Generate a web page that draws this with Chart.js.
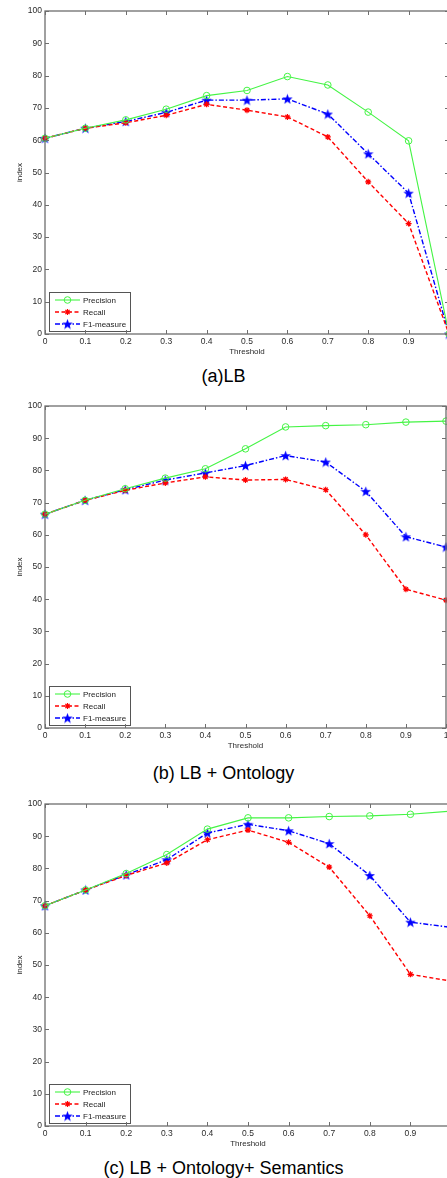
<!DOCTYPE html>
<html>
<head>
<meta charset="utf-8">
<script src="https://cdn.jsdelivr.net/npm/chart.js@4.4.1/dist/chart.umd.min.js"></script>
<style>
  html, body { margin: 0; padding: 0; background: #fff; overflow: hidden; }
  body { width: 447px; height: 1178px; position: relative; }
  canvas { position: absolute; left: 0; }
  .caption { position: absolute; left: 0; width: 447px; text-align: center;
             font: 18px "Liberation Sans", Arial, sans-serif; line-height: 20px; color: #000; }
</style>
</head>
<body>
<canvas id="chartA" width="449" height="364" style="top:0px"></canvas>
<div class="caption" style="top:366px">(a)LB</div>
<canvas id="chartB" width="448" height="368" style="top:390px"></canvas>
<div class="caption" style="top:763px">(b) LB + Ontology</div>
<canvas id="chartC" width="451" height="376" style="top:780px"></canvas>
<div class="caption" style="top:1158px">(c) LB + Ontology+ Semantics</div>

<script>
// thresholds on the x axis
const thresholds = [0, 0.1, 0.2, 0.3, 0.4, 0.5, 0.6, 0.7, 0.8, 0.9, 1];
const xTickLabels = ['0', '0.1', '0.2', '0.3', '0.4', '0.5', '0.6', '0.7', '0.8', '0.9', '1'];
const yTickLabels = ['0', '10', '20', '30', '40', '50', '60', '70', '80', '90', '100'];
const seriesNames = ['Precision', 'Recall', 'F1-measure'];

// (a) LB
const lbPrecision = [60.6, 63.7, 66.3, 69.6, 73.8, 75.4, 79.7, 77.1, 68.7, 59.8, 0];
const lbRecall    = [60.6, 63.7, 65.4, 67.7, 71.1, 69.3, 67.2, 61.0, 47.1, 34.2, 0];
const lbF1        = [60.6, 63.7, 65.8, 68.6, 72.4, 72.4, 72.8, 68.1, 55.8, 43.6, 0];

// (b) LB + Ontology
const ontPrecision = [66.4, 70.7, 74.3, 77.6, 80.5, 86.7, 93.5, 93.9, 94.2, 95.0, 95.3];
const ontRecall    = [66.4, 70.7, 73.8, 76.1, 78.0, 77.0, 77.2, 74.0, 60.0, 43.1, 39.7];
const ontF1        = [66.4, 70.7, 74.0, 77.0, 79.2, 81.5, 84.6, 82.6, 73.5, 59.4, 56.2];

// (c) LB + Ontology + Semantics
const semPrecision = [68.4, 73.3, 78.4, 84.3, 92.2, 95.7, 95.7, 96.1, 96.3, 96.8, 97.8];
const semRecall    = [68.4, 73.3, 77.8, 81.7, 88.9, 91.9, 88.1, 80.4, 65.3, 47.1, 45.0];
const semF1        = [68.4, 73.3, 78.0, 82.7, 91.0, 93.7, 91.7, 87.7, 77.8, 63.3, 61.7];

const GREEN = '#44f444';
const RED = '#ff0000';
const BLUE = '#0000ff';
const FONT = '"Liberation Sans", Arial, sans-serif';

// filled pentagram for the F1 markers (matlab 'p')
function makeStar(size, color) {
    const c = document.createElement('canvas');
    c.width = size; c.height = size;
    const g = c.getContext('2d');
    const cx = size / 2, cy = size / 2 + 0.5, ro = size / 2, ri = ro * 0.42;
    g.beginPath();
    for (let i = 0; i < 10; i++) {
        const r = i % 2 ? ri : ro;
        const a = -Math.PI / 2 + i * Math.PI / 5;
        g.lineTo(cx + r * Math.cos(a), cy + r * Math.sin(a));
    }
    g.closePath();
    g.fillStyle = color;
    g.fill();
    return c;
}
const starImg = makeStar(11, BLUE);

function points(vals) {
    return thresholds.map((t, i) => ({ x: t, y: vals[i] }));
}

// inward tick marks + box frame, matlab style
const matlabFrame = {
    id: 'matlabFrame',
    afterDraw(chart) {
        const { ctx, chartArea: { top, right, bottom, left }, scales: { x, y } } = chart;
        ctx.save();
        ctx.strokeStyle = '#6e6e6e';
        ctx.lineWidth = 1.3;
        ctx.strokeRect(left, top, right - left, bottom - top);
        ctx.lineWidth = 1;
        ctx.beginPath();
        x.ticks.forEach(t => {
            const px = Math.round(x.getPixelForValue(t.value)) + 0.5;
            ctx.moveTo(px, bottom); ctx.lineTo(px, bottom - 4);
            ctx.moveTo(px, top); ctx.lineTo(px, top + 4);
        });
        y.ticks.forEach(t => {
            const py = Math.round(y.getPixelForValue(t.value)) + 0.5;
            ctx.moveTo(left, py); ctx.lineTo(left + 4, py);
            ctx.moveTo(right, py); ctx.lineTo(right - 4, py);
        });
        ctx.stroke();
        ctx.restore();
    }
};

// legend box in the lower left corner
const cornerLegend = {
    id: 'cornerLegend',
    afterDatasetsDraw(chart) {
        const { ctx, chartArea: { bottom, left } } = chart;
        const bx = left + 4, bw = 81, bh = 39;
        const by = bottom - 3 - bh;
        ctx.save();
        ctx.fillStyle = '#fff';
        ctx.fillRect(bx, by, bw, bh);
        ctx.strokeStyle = '#555';
        ctx.lineWidth = 1;
        ctx.strokeRect(bx + 0.5, by + 0.5, bw, bh);
        chart.data.datasets.forEach((ds, i) => {
            const ly = by + 8 + i * 12;
            ctx.strokeStyle = ds.borderColor;
            ctx.lineWidth = ds.borderWidth;
            ctx.setLineDash(ds.borderDash || []);
            ctx.beginPath();
            ctx.moveTo(bx + 6, ly); ctx.lineTo(bx + 31, ly);
            ctx.stroke();
            ctx.setLineDash([]);
            const mx = bx + 18.5;
            if (i === 0) {
                ctx.lineWidth = 1;
                ctx.beginPath(); ctx.arc(mx, ly, 3.3, 0, Math.PI * 2); ctx.stroke();
            } else if (i === 1) {
                ctx.lineWidth = 1.2;
                ctx.beginPath();
                for (let k = 0; k < 4; k++) {
                    const a = k * Math.PI / 4;
                    ctx.moveTo(mx - 3 * Math.cos(a), ly - 3 * Math.sin(a));
                    ctx.lineTo(mx + 3 * Math.cos(a), ly + 3 * Math.sin(a));
                }
                ctx.stroke();
            } else {
                ctx.drawImage(starImg, mx - 5.5, ly - 5.5);
            }
            ctx.fillStyle = '#222';
            ctx.font = '8px ' + FONT;
            ctx.textBaseline = 'middle';
            ctx.fillText(seriesNames[i], bx + 34, ly + 0.5);
        });
        ctx.restore();
    }
};

function makeChart(id, precision, recall, f1, padTop, padRight) {
    const data = {
        datasets: [{
            label: seriesNames[0],
            data: points(precision),
            borderColor: GREEN,
            backgroundColor: 'rgba(0,0,0,0)',
            borderWidth: 1.1,
            pointStyle: 'circle',
            pointRadius: 3.3,
            pointBorderWidth: 1,
            pointBorderColor: GREEN,
            pointBackgroundColor: 'rgba(0,0,0,0)',
            clip: false
        }, {
            label: seriesNames[1],
            data: points(recall),
            borderColor: RED,
            backgroundColor: RED,
            borderWidth: 1.4,
            borderDash: [4, 2.5],
            pointStyle: 'star',
            pointRadius: 3,
            pointBorderWidth: 1.2,
            pointBorderColor: RED,
            clip: false
        }, {
            label: seriesNames[2],
            data: points(f1),
            borderColor: BLUE,
            backgroundColor: BLUE,
            borderWidth: 1.4,
            borderDash: [5, 2, 1.5, 2],
            pointStyle: starImg,
            clip: false
        }]
    };

    const config = {
        type: 'line',
        data: data,
        options: {
            responsive: false,
            animation: false,
            events: [],
            layout: { autoPadding: false, padding: { top: padTop, right: padRight, left: 0, bottom: 0 } },
            plugins: { legend: { display: false }, tooltip: { enabled: false } },
            scales: {
                x: {
                    type: 'linear',
                    min: 0, max: 1,
                    grid: { display: false, drawTicks: false },
                    border: { display: false },
                    ticks: {
                        stepSize: 0.1,
                        padding: 3,
                        color: '#2b2b2b',
                        font: { family: FONT, size: 8.5 },
                        maxRotation: 0,
                        autoSkip: false,
                        callback: (v) => xTickLabels[Math.round(v * 10)]
                    },
                    title: {
                        display: true, text: 'Threshold', color: '#2b2b2b',
                        font: { family: FONT, size: 8 }, padding: { top: 0, bottom: 7 }
                    },
                    afterFit(scale) {
                        scale.height = 30;
                        scale.paddingLeft = 0;
                        scale.paddingRight = 0;
                    }
                },
                y: {
                    min: 0, max: 100,
                    grid: { display: false, drawTicks: false },
                    border: { display: false },
                    ticks: {
                        stepSize: 10,
                        padding: 3,
                        color: '#2b2b2b',
                        font: { family: FONT, size: 8.5 },
                        callback: (v) => yTickLabels[Math.round(v / 10)]
                    },
                    title: {
                        display: true, text: 'index', color: '#2b2b2b',
                        font: { family: FONT, size: 8 }, padding: { top: 15, bottom: 0 }
                    },
                    afterFit(scale) {
                        scale.width = 45;
                        scale.paddingTop = 0;
                        scale.paddingBottom = 0;
                    }
                }
            }
        },
        plugins: [matlabFrame, cornerLegend]
    };

    return new Chart(document.getElementById(id), config);
}

makeChart('chartA', lbPrecision, lbRecall, lbF1, 11, 0);
makeChart('chartB', ontPrecision, ontRecall, ontF1, 16, 2);
makeChart('chartC', semPrecision, semRecall, semF1, 24, 0);
</script>
</body>
</html>
